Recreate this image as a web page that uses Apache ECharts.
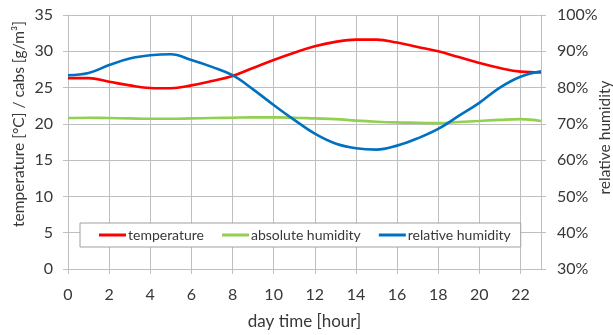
<!DOCTYPE html>
<html><head><meta charset="utf-8">
<script src="https://cdn.jsdelivr.net/npm/echarts@6/dist/echarts.min.js"></script>
<style>html,body{margin:0;padding:0;background:#fff}#c{width:613px;height:335px}</style>
</head><body><div id="c"></div>
<script>
const hours = [0,1,2,3,4,5,6,7,8,9,10,11,12,13,14,15,16,17,18,19,20,21,22,23];
const temperature = [26.3,26.3,25.8,25.3,24.95,24.9,25.3,25.9,26.6,27.7,28.8,29.8,30.7,31.3,31.6,31.6,31.2,30.6,30.0,29.2,28.4,27.7,27.2,27.1];
const absoluteHumidity = [20.8,20.85,20.8,20.75,20.7,20.7,20.75,20.8,20.85,20.9,20.9,20.85,20.75,20.65,20.45,20.3,20.2,20.15,20.1,20.25,20.4,20.55,20.65,20.4];
const relativeHumidity = [83.4,84.0,86.2,88.0,88.9,89.2,87.6,85.7,83.4,79.5,75.2,71.1,67.3,64.6,63.3,62.9,64.0,66.0,68.6,72.2,75.8,80.0,83.0,84.5];
const seriesNames = ['temperature','absolute humidity','relative humidity'];
const legendTextWidths = [76, 108, 101];

const FONT = 'Lato';
const grey = '#bfbfbf';
const txt = '#383838';
const pair = (vals) => hours.map((h,i)=>[h, vals[i]]);

const chart = echarts.init(document.getElementById('c'), null, {renderer:'canvas'});
chart.setOption({
  animation:false,
  textStyle:{fontFamily:FONT},
  grid:{left:68,right:72,top:15,bottom:66,outerBoundsMode:'none',containLabel:false},
  legend:{
    data:seriesNames.map((n,i)=>({name:n,textStyle:{width:legendTextWidths[i]}})),
    left:80, top:223,
    padding:[5,10,5,19], itemGap:18, itemWidth:27, itemHeight:3, icon:'rect',
    backgroundColor:'#fff', borderColor:'#a0a0a0', borderWidth:1, borderRadius:0,
    textStyle:{fontFamily:FONT,fontSize:14,color:txt,padding:[0,0,0,-3]}
  },
  xAxis:{
    type:'value', min:0, max:23, interval:2,
    name:'day time [hour]', nameLocation:'middle', nameGap:44, nameMoveOverlap:false,
    nameTextStyle:{fontFamily:FONT,fontSize:17,color:txt},
    axisLine:{show:true,lineStyle:{color:grey}},
    axisTick:{show:true,length:5,lineStyle:{color:grey}},
    axisLabel:{fontFamily:FONT,fontSize:16,color:txt,margin:18,showMaxLabel:false},
    splitLine:{show:true,lineStyle:{color:grey,width:1}}
  },
  yAxis:[{
    type:'value', min:0, max:35, interval:5, position:'left',
    name:'temperature [°C] / cabs [g/m³]', nameLocation:'middle', nameGap:41, nameRotate:90, nameMoveOverlap:false,
    nameTextStyle:{fontFamily:FONT,fontSize:15.5,color:txt,padding:[0,0,0,36]},
    axisLine:{show:true,lineStyle:{color:grey}},
    axisTick:{show:true,length:5,lineStyle:{color:grey}},
    axisLabel:{fontFamily:FONT,fontSize:16,color:txt,margin:15},
    splitLine:{show:true,lineStyle:{color:grey,width:1}}
  },{
    type:'value', min:30, max:100, interval:10, position:'right',
    name:'relative humidity', nameLocation:'middle', nameGap:56, nameRotate:90, nameMoveOverlap:false,
    nameTextStyle:{fontFamily:FONT,fontSize:15.5,color:txt,padding:[0,0,0,9]},
    axisLine:{show:true,lineStyle:{color:grey}},
    axisTick:{show:true,length:5,lineStyle:{color:grey}},
    axisLabel:{fontFamily:FONT,fontSize:16,color:txt,margin:16,formatter:'{value}%'},
    splitLine:{show:false}
  }],
  series:[
    {name:seriesNames[0],type:'line',yAxisIndex:0,data:pair(temperature),smooth:0.4,showSymbol:false,
     lineStyle:{color:'#ff0000',width:2.6},itemStyle:{color:'#ff0000'}},
    {name:seriesNames[1],type:'line',yAxisIndex:0,data:pair(absoluteHumidity),smooth:0.4,showSymbol:false,
     lineStyle:{color:'#92d050',width:2.6},itemStyle:{color:'#92d050'}},
    {name:seriesNames[2],type:'line',yAxisIndex:1,data:pair(relativeHumidity),smooth:0.4,showSymbol:false,
     lineStyle:{color:'#0070c0',width:2.6},itemStyle:{color:'#0070c0'}}
  ]
});
</script></body></html>
